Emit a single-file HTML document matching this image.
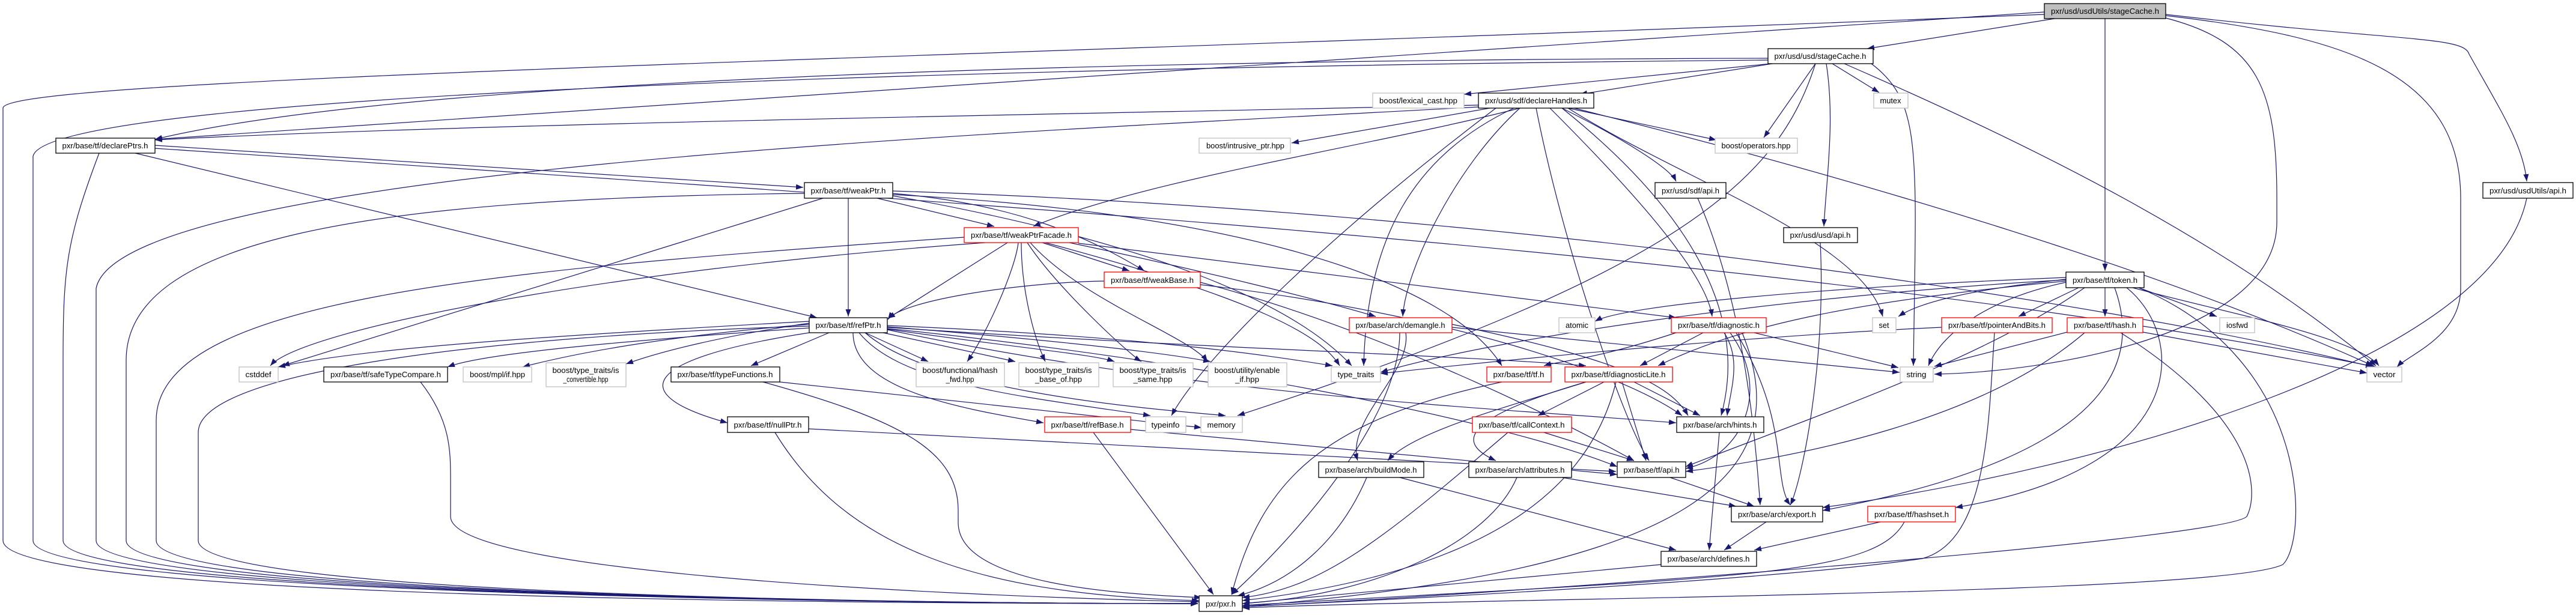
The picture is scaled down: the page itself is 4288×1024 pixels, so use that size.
<!DOCTYPE html>
<html><head><meta charset="utf-8"><style>
html,body{margin:0;padding:0;background:#fff;}
svg{display:block;}
text{font-family:"Liberation Sans",sans-serif;font-size:13px;fill:#000;}
</style></head><body>
<svg width="4288" height="1024" viewBox="0 0 4288 1024" xmlns="http://www.w3.org/2000/svg">
<defs><marker id="a" markerUnits="userSpaceOnUse" markerWidth="13" markerHeight="10" refX="12" refY="4.5" orient="auto"><path d="M0,0 L12,4.5 L0,9 z" fill="#191970"/></marker></defs>
<g fill="none" stroke="#191970" stroke-width="1.2" marker-end="url(#a)">
<path d="M3420,31 L3108,81"/>
<path d="M3403,20 L258,232"/>
<path d="M3403,24 C1500,100 5,130 5,180 L5,900 C5,1000 1500,1005 1994,1005"/>
<path d="M3504,31 L3504,451"/>
<path d="M3605,30 C3760,70 3790,150 3790,330 L3790,370 C3790,560 3400,620 3220,623"/>
<path d="M3605,26 C3900,60 4096,120 4096,330 L4096,480 C4096,560 4010,590 3990,611"/>
<path d="M3605,24 C4000,70 4100,60 4110,90 C4160,180 4200,240 4206,302"/>
<path d="M2943,97 C1500,100 600,150 258,232"/>
<path d="M2943,100 C1800,110 80,150 55,260 L55,900 C55,990 1500,1005 1994,1005"/>
<path d="M2948,106 L2437,157"/>
<path d="M2950,106 L2630,157"/>
<path d="M3022,106 L2936,229"/>
<path d="M3050,106 L3128,154"/>
<path d="M3040,106 C3055,200 3040,300 3036,377"/>
<path d="M3115,106 C3200,170 3190,250 3185,609"/>
<path d="M3070,106 C3400,250 3700,400 3955,609"/>
<path d="M3022,106 C2960,300 2800,450 2060,692"/>
<path d="M2461,175 C1800,190 800,205 258,233"/>
<path d="M2461,178 C1700,220 200,280 160,480 L160,900 C160,990 1500,1005 1994,1005"/>
<path d="M2530,180 C2300,240 1900,300 1720,377"/>
<path d="M2480,180 L2150,238"/>
<path d="M2610,180 L2857,233"/>
<path d="M2600,180 C2700,230 2780,280 2790,302"/>
<path d="M2520,180 C2350,260 2275,400 2270,609"/>
<path d="M2530,180 C2420,280 2340,450 2335,527"/>
<path d="M2557,180 C2600,400 2700,700 2745,767"/>
<path d="M2580,180 C2700,300 2840,450 2850,527"/>
<path d="M2600,180 C2900,420 2890,600 2865,692"/>
<path d="M2610,180 C2800,300 3100,400 3134,527"/>
<path d="M2620,180 C3100,300 3600,450 3950,609"/>
<path d="M2490,180 C2200,400 2000,600 1950,692"/>
<path d="M258,242 L1337,312"/>
<path d="M225,255 L1360,529"/>
<path d="M165,255 C110,400 105,450 105,600 L105,900 C105,990 1500,1005 1994,1005"/>
<path d="M258,247 C1500,330 3000,420 3955,611"/>
<path d="M1460,330 L1655,377"/>
<path d="M1486,322 C1700,340 1820,400 1905,451"/>
<path d="M1412,330 L1412,527"/>
<path d="M1370,330 L470,609"/>
<path d="M1339,322 C600,330 210,400 210,600 L210,900 C210,990 1500,1005 1994,1005"/>
<path d="M1486,326 C1900,400 2150,500 2250,609"/>
<path d="M1486,324 C2000,350 2400,450 2500,609"/>
<path d="M1486,318 C2500,350 3500,500 3950,611"/>
<path d="M1605,395 C800,450 260,500 260,700 L260,900 C260,990 1500,1005 1994,1005"/>
<path d="M1735,404 L1880,451"/>
<path d="M1677,404 L1478,530"/>
<path d="M1695,404 C1690,450 1640,560 1610,602"/>
<path d="M1700,404 C1700,480 1720,560 1740,602"/>
<path d="M1710,404 C1760,480 1880,590 1900,602"/>
<path d="M1715,404 C1800,500 1980,560 2010,602"/>
<path d="M1795,405 L2790,529"/>
<path d="M1640,404 C1000,450 500,550 450,609"/>
<path d="M1740,404 C2100,500 2200,560 2230,609"/>
<path d="M1780,404 C2000,450 2200,500 2290,527"/>
<path d="M1838,468 C1700,470 1500,500 1478,532"/>
<path d="M1998,470 C2300,550 2600,700 2720,767"/>
<path d="M1998,474 C2400,520 2700,620 2800,692"/>
<path d="M1380,554 L1250,609"/>
<path d="M1347,554 C1050,600 1050,660 1211,704"/>
<path d="M1420,554 C1420,650 1600,680 1737,704"/>
<path d="M1430,554 C1500,640 1700,660 1915,692"/>
<path d="M1440,554 C1550,650 1900,680 2040,692"/>
<path d="M1440,554 L1545,602"/>
<path d="M1470,554 L1690,602"/>
<path d="M1477,548 C1700,580 1820,590 1855,602"/>
<path d="M1477,544 C1800,570 1950,590 2015,602"/>
<path d="M1477,542 C1900,560 2100,590 2218,609"/>
<path d="M1477,545 C2000,580 2400,590 2640,609"/>
<path d="M1347,546 C1000,570 800,590 745,611"/>
<path d="M1347,540 C1100,560 950,590 870,611"/>
<path d="M1347,538 C1200,560 1100,585 1042,606"/>
<path d="M1347,535 C900,560 600,580 463,611"/>
<path d="M1347,543 C800,560 330,620 330,720 L330,900 C330,990 1500,1005 1994,1005"/>
<path d="M1477,547 C2000,600 2500,700 2692,777"/>
<path d="M1477,549 C2000,660 2500,680 2790,704"/>
<path d="M1270,636 C1500,700 1595,750 1595,850 L1595,870 C1595,980 1900,990 2000,995"/>
<path d="M1298,636 L2000,712"/>
<path d="M1346,714 L2690,785"/>
<path d="M1290,720 C1400,900 1600,990 1996,1000"/>
<path d="M700,636 C750,700 750,750 750,800 L750,860 C750,950 1500,990 1996,1002"/>
<path d="M1820,720 L2020,990"/>
<path d="M1882,715 L2692,790"/>
<path d="M2330,554 C2330,700 2150,900 2050,990"/>
<path d="M2340,554 C2350,620 2240,700 2260,767"/>
<path d="M2417,545 L3162,620"/>
<path d="M2417,540 C2700,600 2780,640 2810,692"/>
<path d="M2835,554 L2730,609"/>
<path d="M2790,554 C2650,600 2600,600 2570,609"/>
<path d="M2870,554 C2900,600 2880,650 2875,692"/>
<path d="M2880,554 C2950,650 2900,760 2806,780"/>
<path d="M2890,554 C2980,700 2950,800 2980,841"/>
<path d="M2900,554 C3000,800 2800,950 2068,1010"/>
<path d="M2920,554 L3160,612"/>
<path d="M2500,636 C2200,700 2100,800 2050,990"/>
<path d="M2670,636 L2560,692"/>
<path d="M2720,636 L2830,692"/>
<path d="M2700,636 L2740,767"/>
<path d="M2640,636 C2500,680 2350,720 2310,767"/>
<path d="M2640,636 C2420,700 2430,740 2490,767"/>
<path d="M2690,636 C2650,800 2500,950 2068,1000"/>
<path d="M2570,720 L2720,767"/>
<path d="M2510,720 C2300,900 2200,980 2068,995"/>
<path d="M2862,720 L2845,916"/>
<path d="M2330,795 L2790,916"/>
<path d="M2275,795 C2230,900 2150,970 2060,992"/>
<path d="M2600,795 L2890,843"/>
<path d="M2525,795 C2480,900 2300,990 2068,1005"/>
<path d="M2780,795 L2920,843"/>
<path d="M2940,869 L2870,916"/>
<path d="M3130,869 L2920,916"/>
<path d="M3170,869 C3120,960 2900,960 2068,1008"/>
<path d="M2765,940 L2068,1005"/>
<path d="M2826,330 C2900,500 2920,700 2930,841"/>
<path d="M3030,404 C3040,600 3000,800 2980,841"/>
<path d="M4206,330 C4150,600 3500,780 3034,845"/>
<path d="M3460,479 L3360,527"/>
<path d="M3504,479 L3504,527"/>
<path d="M3560,479 L3690,527"/>
<path d="M3550,479 C3700,520 3920,560 3960,609"/>
<path d="M3439,470 C3300,500 3230,560 3210,609"/>
<path d="M3439,465 C3300,480 3200,500 3160,527"/>
<path d="M3439,462 C3000,480 2700,510 2655,535"/>
<path d="M3439,468 C3100,500 2900,540 2760,609"/>
<path d="M3470,479 C3300,600 3000,700 2806,777"/>
<path d="M3439,466 C3000,490 2500,560 2298,620"/>
<path d="M3560,479 C3850,600 3842,900 3800,940 C3700,990 2500,995 2068,1012"/>
<path d="M3540,479 C3640,560 3650,780 3255,845"/>
<path d="M3520,479 C3600,700 3300,800 3034,850"/>
<path d="M3530,554 C3760,700 3760,820 3740,860 C3700,900 2500,990 2068,1010"/>
<path d="M3567,553 L3940,621"/>
<path d="M3441,553 L3220,610"/>
<path d="M3470,554 C3300,700 3000,760 2806,785"/>
<path d="M3320,554 C3310,700 3310,900 3200,930 C3000,960 2500,990 2068,1010"/>
<path d="M3232,545 C2900,560 2500,600 2298,622"/>
</g>
<g stroke-width="1.3">
<!-- black nodes -->
<g fill="#fff" stroke="#000">
<rect x="3403" y="6" width="202" height="25" fill="#bfbfbf"/>
<rect x="2943" y="81" width="175" height="25"/>
<rect x="2461" y="155" width="192" height="25"/>
<rect x="93" y="230" width="165" height="25"/>
<rect x="1339" y="304" width="147" height="26"/>
<rect x="2755" y="304" width="118" height="26"/>
<rect x="4133" y="304" width="150" height="26"/>
<rect x="2969" y="379" width="123" height="25"/>
<rect x="3439" y="453" width="130" height="26"/>
<rect x="1347" y="529" width="130" height="25"/>
<rect x="539" y="611" width="206" height="25"/>
<rect x="1117" y="611" width="181" height="25"/>
<rect x="1211" y="694" width="135" height="26"/>
<rect x="2791" y="694" width="145" height="26"/>
<rect x="2195" y="769" width="175" height="26"/>
<rect x="2445" y="769" width="171" height="26"/>
<rect x="2692" y="769" width="114" height="26"/>
<rect x="2882" y="843" width="152" height="26"/>
<rect x="2765" y="918" width="159" height="25"/>
<rect x="1996" y="992" width="72" height="26"/>
</g>
<g fill="#fff" stroke="#ff0000">
<rect x="1605" y="379" width="190" height="25"/>
<rect x="1838" y="453" width="160" height="26"/>
<rect x="2246" y="529" width="171" height="25"/>
<rect x="2782" y="529" width="158" height="25"/>
<rect x="3232" y="529" width="184" height="25"/>
<rect x="3441" y="529" width="126" height="25"/>
<rect x="2475" y="611" width="107" height="25"/>
<rect x="2605" y="611" width="179" height="25"/>
<rect x="1739" y="694" width="143" height="26"/>
<rect x="2451" y="694" width="165" height="26"/>
<rect x="3109" y="843" width="146" height="26"/>
</g>
<g fill="#fff" stroke="#bfbfbf">
<rect x="2285" y="155" width="152" height="25"/>
<rect x="3119" y="155" width="57" height="25"/>
<rect x="1996" y="230" width="152" height="25"/>
<rect x="2855" y="230" width="137" height="25"/>
<rect x="2595" y="529" width="60" height="25"/>
<rect x="3117" y="529" width="39" height="25"/>
<rect x="3695" y="529" width="58" height="25"/>
<rect x="398" y="611" width="65" height="25"/>
<rect x="771" y="611" width="114" height="25"/>
<rect x="909" y="604" width="133" height="40"/>
<rect x="1525" y="604" width="147" height="40"/>
<rect x="1696" y="604" width="133" height="40"/>
<rect x="1853" y="604" width="133" height="40"/>
<rect x="2011" y="604" width="131" height="40"/>
<rect x="2216" y="611" width="82" height="25"/>
<rect x="3163" y="611" width="55" height="25"/>
<rect x="3940" y="611" width="58" height="25"/>
<rect x="1907" y="694" width="67" height="26"/>
<rect x="1999" y="694" width="69" height="26"/>
</g>
</g>
<g text-anchor="middle" lengthAdjust="spacingAndGlyphs">
<text x="3504" y="23" textLength="180" lengthAdjust="spacingAndGlyphs">pxr/usd/usdUtils/stageCache.h</text>
<text x="3030" y="98" textLength="153" lengthAdjust="spacingAndGlyphs">pxr/usd/usd/stageCache.h</text>
<text x="2557" y="172" textLength="170" lengthAdjust="spacingAndGlyphs">pxr/usd/sdf/declareHandles.h</text>
<text x="175" y="247" textLength="143" lengthAdjust="spacingAndGlyphs">pxr/base/tf/declarePtrs.h</text>
<text x="1412" y="322" textLength="125" lengthAdjust="spacingAndGlyphs">pxr/base/tf/weakPtr.h</text>
<text x="2814" y="322" textLength="96" lengthAdjust="spacingAndGlyphs">pxr/usd/sdf/api.h</text>
<text x="4208" y="322" textLength="128" lengthAdjust="spacingAndGlyphs">pxr/usd/usdUtils/api.h</text>
<text x="3030" y="396" textLength="101" lengthAdjust="spacingAndGlyphs">pxr/usd/usd/api.h</text>
<text x="3504" y="471" textLength="108" lengthAdjust="spacingAndGlyphs">pxr/base/tf/token.h</text>
<text x="1412" y="546" textLength="109" lengthAdjust="spacingAndGlyphs">pxr/base/tf/refPtr.h</text>
<text x="642" y="628" textLength="184" lengthAdjust="spacingAndGlyphs">pxr/base/tf/safeTypeCompare.h</text>
<text x="1207" y="628" textLength="159" lengthAdjust="spacingAndGlyphs">pxr/base/tf/typeFunctions.h</text>
<text x="1278" y="712" textLength="113" lengthAdjust="spacingAndGlyphs">pxr/base/tf/nullPtr.h</text>
<text x="2863" y="712" textLength="123" lengthAdjust="spacingAndGlyphs">pxr/base/arch/hints.h</text>
<text x="2282" y="787" textLength="153" lengthAdjust="spacingAndGlyphs">pxr/base/arch/buildMode.h</text>
<text x="2530" y="787" textLength="149" lengthAdjust="spacingAndGlyphs">pxr/base/arch/attributes.h</text>
<text x="2749" y="787" textLength="93" lengthAdjust="spacingAndGlyphs">pxr/base/tf/api.h</text>
<text x="2958" y="861" textLength="130" lengthAdjust="spacingAndGlyphs">pxr/base/arch/export.h</text>
<text x="2844" y="935" textLength="137" lengthAdjust="spacingAndGlyphs">pxr/base/arch/defines.h</text>
<text x="2032" y="1010" textLength="50" lengthAdjust="spacingAndGlyphs">pxr/pxr.h</text>
<text x="1700" y="396" textLength="168" lengthAdjust="spacingAndGlyphs">pxr/base/tf/weakPtrFacade.h</text>
<text x="1918" y="471" textLength="138" lengthAdjust="spacingAndGlyphs">pxr/base/tf/weakBase.h</text>
<text x="2331" y="546" textLength="149" lengthAdjust="spacingAndGlyphs">pxr/base/arch/demangle.h</text>
<text x="2861" y="546" textLength="136" lengthAdjust="spacingAndGlyphs">pxr/base/tf/diagnostic.h</text>
<text x="3324" y="546" textLength="162" lengthAdjust="spacingAndGlyphs">pxr/base/tf/pointerAndBits.h</text>
<text x="3504" y="546" textLength="104" lengthAdjust="spacingAndGlyphs">pxr/base/tf/hash.h</text>
<text x="2528" y="628" textLength="85" lengthAdjust="spacingAndGlyphs">pxr/base/tf/tf.h</text>
<text x="2694" y="628" textLength="157" lengthAdjust="spacingAndGlyphs">pxr/base/tf/diagnosticLite.h</text>
<text x="1810" y="712" textLength="121" lengthAdjust="spacingAndGlyphs">pxr/base/tf/refBase.h</text>
<text x="2533" y="712" textLength="143" lengthAdjust="spacingAndGlyphs">pxr/base/tf/callContext.h</text>
<text x="3182" y="861" textLength="124" lengthAdjust="spacingAndGlyphs">pxr/base/tf/hashset.h</text>
<text x="2361" y="172" textLength="130" lengthAdjust="spacingAndGlyphs">boost/lexical_cast.hpp</text>
<text x="3147" y="172" textLength="35" lengthAdjust="spacingAndGlyphs">mutex</text>
<text x="2073" y="247" textLength="130" lengthAdjust="spacingAndGlyphs">boost/intrusive_ptr.hpp</text>
<text x="2923" y="247" textLength="115" lengthAdjust="spacingAndGlyphs">boost/operators.hpp</text>
<text x="2625" y="546" textLength="38" lengthAdjust="spacingAndGlyphs">atomic</text>
<text x="3136" y="546" textLength="17" lengthAdjust="spacingAndGlyphs">set</text>
<text x="3724" y="546" textLength="36" lengthAdjust="spacingAndGlyphs">iosfwd</text>
<text x="430" y="628" textLength="43" lengthAdjust="spacingAndGlyphs">cstddef</text>
<text x="828" y="628" textLength="92" lengthAdjust="spacingAndGlyphs">boost/mpl/if.hpp</text>
<text x="975" y="621" textLength="111" lengthAdjust="spacingAndGlyphs">boost/type_traits/is</text>
<text x="975" y="636" textLength="75" lengthAdjust="spacingAndGlyphs">_convertible.hpp</text>
<text x="1598" y="621" textLength="125" lengthAdjust="spacingAndGlyphs">boost/functional/hash</text>
<text x="1598" y="636" textLength="47" lengthAdjust="spacingAndGlyphs">_fwd.hpp</text>
<text x="1762" y="621" textLength="111" lengthAdjust="spacingAndGlyphs">boost/type_traits/is</text>
<text x="1762" y="636" textLength="78" lengthAdjust="spacingAndGlyphs">_base_of.hpp</text>
<text x="1919" y="621" textLength="111" lengthAdjust="spacingAndGlyphs">boost/type_traits/is</text>
<text x="1919" y="636" textLength="65" lengthAdjust="spacingAndGlyphs">_same.hpp</text>
<text x="2076" y="621" textLength="109" lengthAdjust="spacingAndGlyphs">boost/utility/enable</text>
<text x="2076" y="636" textLength="40" lengthAdjust="spacingAndGlyphs">_if.hpp</text>
<text x="2257" y="628" textLength="61" lengthAdjust="spacingAndGlyphs">type_traits</text>
<text x="3190" y="628" textLength="33" lengthAdjust="spacingAndGlyphs">string</text>
<text x="3969" y="628" textLength="37" lengthAdjust="spacingAndGlyphs">vector</text>
<text x="1940" y="712" textLength="47" lengthAdjust="spacingAndGlyphs">typeinfo</text>
<text x="2033" y="712" textLength="47" lengthAdjust="spacingAndGlyphs">memory</text>
</g>
</svg>
</body></html>
